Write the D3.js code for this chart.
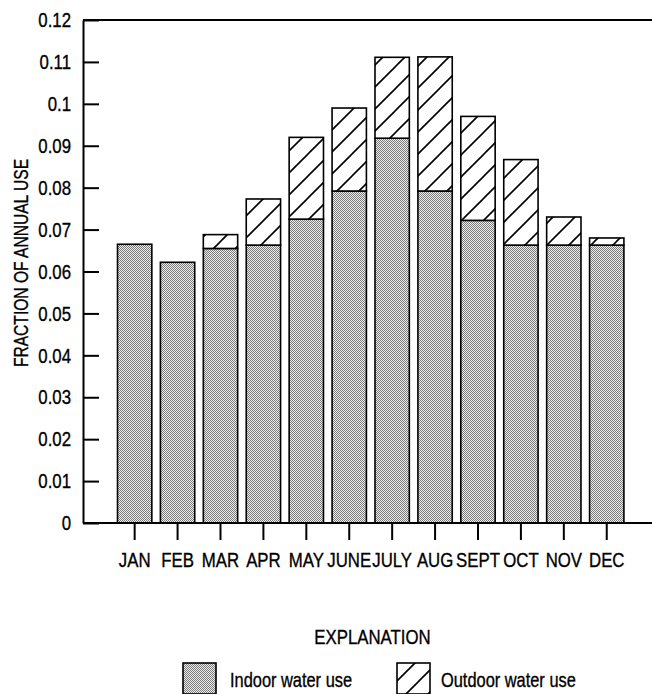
<!DOCTYPE html>
<html>
<head>
<meta charset="utf-8">
<script src="https://cdn.jsdelivr.net/npm/d3@7"></script>
<style>
  html, body { margin: 0; padding: 0; background: #fff; }
  svg { display: block; }
  text { font-family: "Liberation Sans", Arial, sans-serif; fill: #000; stroke: #000; stroke-width: 0.35px; }
</style>
</head>
<body>
<svg id="chart" width="652" height="694"></svg>
<script>
const months = ["JAN","FEB","MAR","APR","MAY","JUNE","JULY","AUG","SEPT","OCT","NOV","DEC"];
const indoor  = [0.0665, 0.0622, 0.0655, 0.0663, 0.0725, 0.0792, 0.0918, 0.0792, 0.0722, 0.0663, 0.0663, 0.0663];
const outdoor = [0.0000, 0.0000, 0.0033, 0.0110, 0.0195, 0.0198, 0.0193, 0.0320, 0.0248, 0.0204, 0.0067, 0.0017];
const yTicks  = [0, 0.01, 0.02, 0.03, 0.04, 0.05, 0.06, 0.07, 0.08, 0.09, 0.1, 0.11, 0.12];
const yTickLabels = ["0","0.01","0.02","0.03","0.04","0.05","0.06","0.07","0.08","0.09","0.1","0.11","0.12"];
const seriesNames = ["Indoor water use", "Outdoor water use"];

const SX = 0.8; // horizontal condensing of the font
const svg = d3.select("#chart");
const defs = svg.append("defs");

// stipple (dither) pattern for indoor use
const stip = defs.append("pattern").attr("id","stipple")
  .attr("patternUnits","userSpaceOnUse").attr("width",2).attr("height",2);
stip.append("rect").attr("width",2).attr("height",2).attr("fill","#eeeeee");
stip.append("rect").attr("x",0).attr("y",0).attr("width",1).attr("height",1).attr("fill","#7a7a7a");
stip.append("rect").attr("x",1).attr("y",1).attr("width",1).attr("height",1).attr("fill","#7a7a7a");

// diagonal hatch for outdoor use
const hs = 22;
const hatch = defs.append("pattern").attr("id","hatch")
  .attr("patternUnits","userSpaceOnUse").attr("width",hs).attr("height",hs);
hatch.append("rect").attr("width",hs).attr("height",hs).attr("fill","#fff");
hatch.append("path")
  .attr("d",`M${-hs/2},${hs/2} L${hs/2},${-hs/2} M0,${hs} L${hs},0 M${hs/2},${hs*1.5} L${hs*1.5},${hs/2}`)
  .attr("stroke","#000").attr("stroke-width",1.6);

const mLeft = 83, mRight = 652, mTop = 20, mBottom = 523;

const x = d3.scaleBand().domain(months).range([113.2, 628.2])
  .paddingInner(0.2).paddingOuter(0.1);
const y = d3.scaleLinear().domain([0, 0.12]).range([mBottom, mTop]);

// bars
const g = svg.append("g");
months.forEach((m, i) => {
  const x0 = x(m), w = x.bandwidth();
  g.append("rect").attr("x", x0).attr("y", y(indoor[i])).attr("width", w)
    .attr("height", y(0) - y(indoor[i]))
    .attr("fill","url(#stipple)").attr("stroke","#000").attr("stroke-width",1.6);
  if (outdoor[i] > 0) {
    const tot = indoor[i] + outdoor[i];
    g.append("rect").attr("x", x0).attr("y", y(tot)).attr("width", w)
      .attr("height", y(indoor[i]) - y(tot))
      .attr("fill","url(#hatch)").attr("stroke","#000").attr("stroke-width",1.6);
  }
});

// frame lines
svg.append("line").attr("x1",mLeft).attr("x2",mRight).attr("y1",mTop).attr("y2",mTop)
  .attr("stroke","#000").attr("stroke-width",2);
svg.append("line").attr("x1",mLeft).attr("x2",mRight).attr("y1",mBottom).attr("y2",mBottom)
  .attr("stroke","#000").attr("stroke-width",2);

// y axis
const yAxis = d3.axisLeft(y).tickValues(yTicks)
  .tickFormat((d, i) => yTickLabels[i]).tickSizeInner(-16).tickSizeOuter(0).tickPadding(12);
const ya = svg.append("g").attr("transform",`translate(${mLeft},0)`).call(yAxis);
ya.select(".domain").attr("stroke","#000").attr("stroke-width",2);
ya.selectAll(".tick line").attr("stroke","#000").attr("stroke-width",2);
ya.selectAll(".tick text").attr("font-size",21)
  .attr("x", -12 / SX).attr("transform",`scale(${SX},1)`);

// x axis
const xAxis = d3.axisBottom(x).tickSizeInner(17).tickSizeOuter(0).tickPadding(12);
const xa = svg.append("g").attr("transform",`translate(0,${mBottom})`).call(xAxis);
xa.select(".domain").remove();
xa.selectAll(".tick line").attr("stroke","#000").attr("stroke-width",2);
xa.selectAll(".tick text").attr("font-size",21)
  .attr("transform",`scale(${SX},1)`);
svg.selectAll("g").attr("font-family",null);

function narrowText(px, py, rot, size, anchor, str) {
  const gg = svg.append("g").attr("transform",`translate(${px},${py}) rotate(${rot})`);
  gg.append("text").attr("transform",`scale(${SX},1)`).attr("text-anchor",anchor)
    .attr("font-size",size).text(str);
}

// y title
narrowText(28, 263, -90, 19.5, "middle", "FRACTION OF ANNUAL USE");
// explanation
narrowText(372.5, 643.5, 0, 21, "middle", "EXPLANATION");

// legend
const leg = [
  {fill:"url(#stipple)", bx:183, tx:230, name:seriesNames[0]},
  {fill:"url(#hatch)", bx:397, tx:441, name:seriesNames[1]}
];
leg.forEach(l => {
  svg.append("rect").attr("x",l.bx).attr("y",663).attr("width",33).attr("height",31)
    .attr("fill",l.fill).attr("stroke","#000").attr("stroke-width",1.6);
  narrowText(l.tx, 687.3, 0, 20.5, "start", l.name);
});
</script>
</body>
</html>
